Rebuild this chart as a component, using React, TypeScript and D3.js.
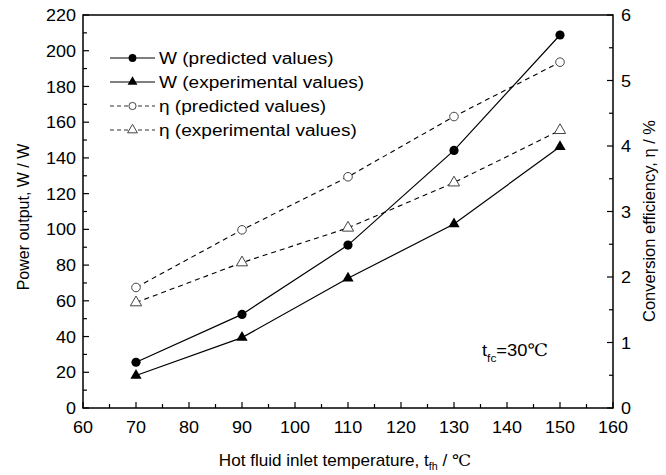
import React from "react";
import * as d3 from "d3";

// Hot fluid inlet temperature (℃)
const temps = [70, 90, 110, 130, 150];
// Power output W (W)
const wPredicted = [25.6, 52.4, 91.2, 144.2, 208.8];
const wExperimental = [18.2, 39.4, 72.6, 103.0, 146.3];
// Conversion efficiency η (%)
const etaPredicted = [1.84, 2.72, 3.53, 4.45, 5.28];
const etaExperimental = [1.61, 2.22, 2.75, 3.44, 4.24];

const xTicks = [60, 70, 80, 90, 100, 110, 120, 130, 140, 150, 160];
const yLeftTicks = [0, 20, 40, 60, 80, 100, 120, 140, 160, 180, 200, 220];
const yRightTicks = [0, 1, 2, 3, 4, 5, 6];

const legendLabels = [
  "W (predicted values)",
  "W (experimental values)",
  "η (predicted values)",
  "η (experimental values)",
];

const W = 666;
const H = 475;
const M = { left: 83, right: 613, top: 15, bottom: 408 };
const FONT = "'Liberation Sans', Arial, Helvetica, sans-serif";
const FS = 17;

export default function App() {
  const x = d3.scaleLinear().domain([60, 160]).range([M.left, M.right]);
  const yL = d3.scaleLinear().domain([0, 220]).range([M.bottom, M.top]);
  const yR = d3.scaleLinear().domain([0, 6]).range([M.bottom, M.top]);

  const lineL = d3
    .line<number>()
    .x((_, i) => x(temps[i]))
    .y((d) => yL(d));
  const lineR = d3
    .line<number>()
    .x((_, i) => x(temps[i]))
    .y((d) => yR(d));

  const tri = d3.symbol().type(d3.symbolTriangle).size(55)() as string;
  const triLegend = d3.symbol().type(d3.symbolTriangle).size(42)() as string;

  const xMinor = d3.range(65, 160, 10);
  const yLMinor = d3.range(10, 220, 20);
  const yRMinor = d3.range(0.5, 6, 1);

  const major = 6;
  const minor = 4;

  const legendY = [58, 82, 106, 130];
  const legX1 = 110;
  const legX2 = 155;
  const legMid = (legX1 + legX2) / 2;

  return (
    <svg
      width={W}
      height={H}
      style={{ position: "absolute", left: 0, top: 0, background: "#fff" }}
      fontFamily={FONT}
    >
      <rect width={W} height={H} fill="#fff" />

      {/* frame */}
      <rect
        x={M.left}
        y={M.top}
        width={M.right - M.left}
        height={M.bottom - M.top}
        fill="none"
        stroke="#000"
        strokeWidth={1.5}
      />

      {/* x ticks */}
      {xTicks.map((t) => (
        <g key={"xt" + t}>
          <line x1={x(t)} x2={x(t)} y1={M.bottom} y2={M.bottom - major} stroke="#000" strokeWidth={1.2} />
          <text transform={`translate(${x(t)},433) scale(1.06,1)`} fontSize={FS} textAnchor="middle">
            {t}
          </text>
        </g>
      ))}
      {xMinor.map((t) => (
        <line key={"xm" + t} x1={x(t)} x2={x(t)} y1={M.bottom} y2={M.bottom - minor} stroke="#000" strokeWidth={1.2} />
      ))}

      {/* left y ticks */}
      {yLeftTicks.map((t) => (
        <g key={"yl" + t}>
          <line x1={M.left} x2={M.left + major} y1={yL(t)} y2={yL(t)} stroke="#000" strokeWidth={1.2} />
          <text transform={`translate(76,${yL(t)}) scale(1.06,1)`} dy="0.36em" fontSize={FS} textAnchor="end">
            {t}
          </text>
        </g>
      ))}
      {yLMinor.map((t) => (
        <line key={"ylm" + t} x1={M.left} x2={M.left + minor} y1={yL(t)} y2={yL(t)} stroke="#000" strokeWidth={1.2} />
      ))}

      {/* right y ticks */}
      {yRightTicks.map((t) => (
        <g key={"yr" + t}>
          <line x1={M.right} x2={M.right - major} y1={yR(t)} y2={yR(t)} stroke="#000" strokeWidth={1.2} />
          <text transform={`translate(621,${yR(t)}) scale(1.06,1)`} dy="0.36em" fontSize={FS} textAnchor="start">
            {t}
          </text>
        </g>
      ))}
      {yRMinor.map((t) => (
        <line key={"yrm" + t} x1={M.right} x2={M.right - minor} y1={yR(t)} y2={yR(t)} stroke="#000" strokeWidth={1.2} />
      ))}

      {/* axis titles */}
      <text transform="translate(345,466) scale(1.07,1)" fontSize={16} textAnchor="middle">
        Hot fluid inlet temperature, t
        <tspan fontSize={10} dy={4}>fh</tspan>
        <tspan dy={-4}> / </tspan>
        <tspan fontFamily="'DejaVu Serif', serif" fontWeight={300}>℃</tspan>
      </text>
      <text transform={`translate(29, 217) rotate(-90)`} fontSize={16} textAnchor="middle">
        Power output, W / W
      </text>
      <text transform={`translate(655, 221) rotate(-90)`} fontSize={16.5} textAnchor="middle">
        Conversion efficiency, η / %
      </text>

      {/* series: efficiency (dashed) */}
      <path d={lineR(etaPredicted) as string} fill="none" stroke="#000" strokeWidth={1.1} strokeDasharray="5,4" />
      <path d={lineR(etaExperimental) as string} fill="none" stroke="#000" strokeWidth={1.1} strokeDasharray="5,4" />
      {/* series: power (solid) */}
      <path d={lineL(wPredicted) as string} fill="none" stroke="#000" strokeWidth={1.2} />
      <path d={lineL(wExperimental) as string} fill="none" stroke="#000" strokeWidth={1.2} />

      {etaPredicted.map((v, i) => (
        <circle key={"ep" + i} cx={x(temps[i])} cy={yR(v)} r={4.3} fill="#fff" stroke="#444" strokeWidth={1} />
      ))}
      {etaExperimental.map((v, i) => (
        <path key={"ee" + i} d={tri} transform={`translate(${x(temps[i])},${yR(v)})`} fill="#fff" stroke="#444" strokeWidth={1} />
      ))}
      {wPredicted.map((v, i) => (
        <circle key={"wp" + i} cx={x(temps[i])} cy={yL(v)} r={4.6} fill="#000" />
      ))}
      {wExperimental.map((v, i) => (
        <path key={"we" + i} d={tri} transform={`translate(${x(temps[i])},${yL(v)})`} fill="#000" />
      ))}

      {/* legend */}
      {legendLabels.map((label, i) => {
        const yy = legendY[i];
        const dashed = i >= 2;
        return (
          <g key={"lg" + i}>
            <line
              x1={legX1}
              x2={legX2}
              y1={yy}
              y2={yy}
              stroke={dashed ? "#333" : "#000"}
              strokeWidth={1.1}
              strokeDasharray={dashed ? "4,3" : undefined}
            />
            {i === 0 && <circle cx={legMid} cy={yy} r={3.9} fill="#000" />}
            {i === 1 && <path d={triLegend} transform={`translate(${legMid},${yy})`} fill="#000" />}
            {i === 2 && <circle cx={legMid} cy={yy} r={3.6} fill="#fff" stroke="#444" strokeWidth={1} />}
            {i === 3 && (
              <path d={triLegend} transform={`translate(${legMid},${yy})`} fill="#fff" stroke="#444" strokeWidth={1} />
            )}
            <text transform={`translate(159,${yy}) scale(1.19,1)`} dy="0.36em" fontSize={16}>
              {label}
            </text>
          </g>
        );
      })}

      {/* condition annotation */}
      <text transform="translate(482,356) scale(1.08,1)" fontSize={17}>
        t
        <tspan fontSize={11} dy={6}>fc</tspan>
        <tspan dy={-6}>=30</tspan>
        <tspan fontFamily="'DejaVu Serif', serif" fontWeight={300}>℃</tspan>
      </text>
    </svg>
  );
}
